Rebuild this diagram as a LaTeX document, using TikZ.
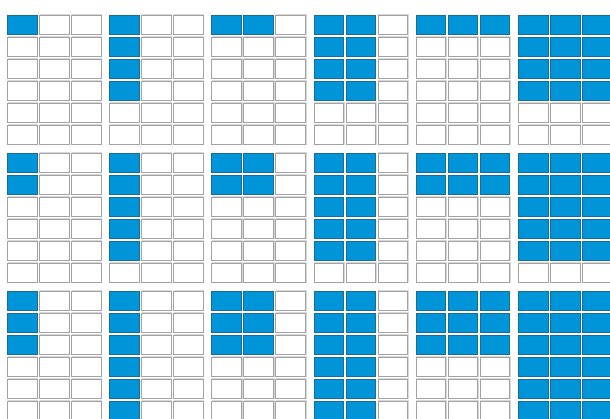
\documentclass[tikz,border=0pt]{standalone}
\definecolor{cellblue}{HTML}{0094D8}
\definecolor{cellblueedge}{HTML}{1A6C98}
\definecolor{celledge}{HTML}{A2A2A2}
\definecolor{cellshadow}{HTML}{D8D8D8}
\tikzset{
  emptycell/.style={fill=white,draw=celledge,line width=0.9pt},
  fullcell/.style={fill=cellblue,draw=cellblueedge,line width=0.9pt},
}
\begin{document}
\begin{tikzpicture}[x=1pt,y=-1pt]
\useasboundingbox (0,0) rectangle (610,418);
\clip (0,0) rectangle (610,418);
\fill[white] (0,0) rectangle (610,418);
\foreach \r in {0,1,2}{
  \foreach \c in {0,...,5}{
    \pgfmathtruncatemacro{\ncols}{int(\c/2)+1}
    \pgfmathtruncatemacro{\nrows}{mod(\c,2)==0 ? \r+1 : \r+4}
    \foreach \i in {0,1,2}{
      \foreach \j in {0,...,5}{
        \pgfmathsetmacro{\xa}{7+102.2*\c+32*\i}
        \pgfmathsetmacro{\ya}{15+138*\r+22*\j}
        \pgfmathtruncatemacro{\isfull}{(\i<\ncols) && (\j<\nrows) ? 1 : 0}
        \ifnum\isfull=1
          \draw[fullcell] (\xa+0.5,\ya+0.5) rectangle ++(29.5,19);
        \else
          \draw[cellshadow,line width=0.8pt] (\xa+0.5,\ya-0.3) -- (\xa+30.6,\ya-0.3) -- (\xa+30.6,\ya+19.5);
          \draw[emptycell] (\xa+0.5,\ya+0.5) rectangle ++(29.5,19);
        \fi
      }
    }
  }
}
\end{tikzpicture}
\end{document}
